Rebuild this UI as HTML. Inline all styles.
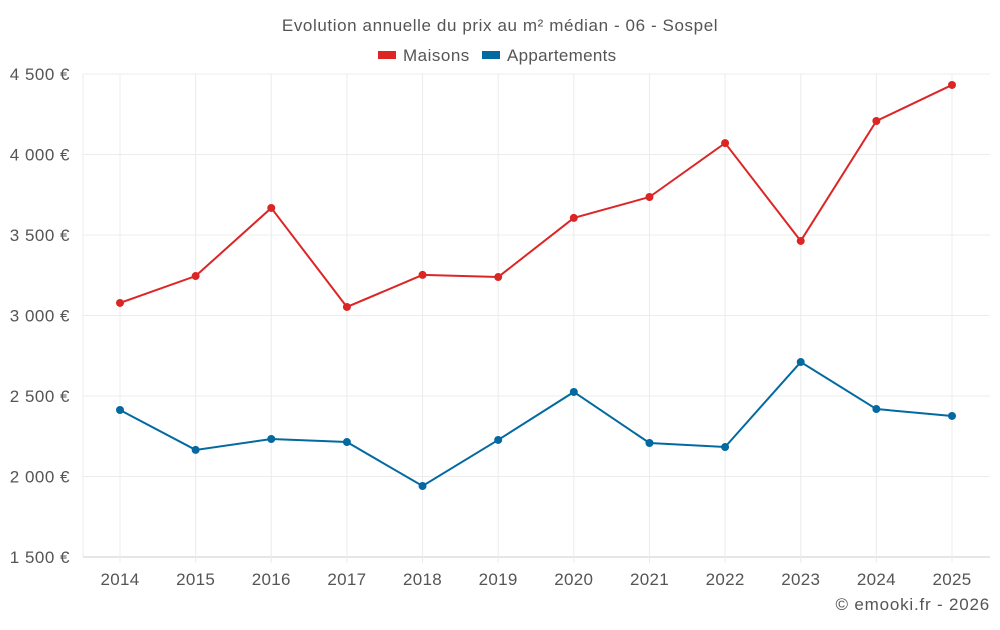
<!DOCTYPE html>
<html><head><meta charset="utf-8"><style>
body{margin:0;background:#fff;font-family:"Liberation Sans",sans-serif;}
svg text{font-family:"Liberation Sans",sans-serif;}
</style></head><body>
<svg id="chart" width="1000" height="625" xmlns="http://www.w3.org/2000/svg">
<text x="500" y="31" text-anchor="middle" font-size="17" letter-spacing="0.6" fill="#555">Evolution annuelle du prix au m² médian - 06 - Sospel</text>
<g>
<g><rect x="378" y="51" width="18" height="8" fill="#dc2626"/><text x="403" y="61" font-size="17" letter-spacing="0.5" fill="#555">Maisons</text></g>
<g><rect x="482" y="51" width="18" height="8" fill="#0369a1"/><text x="507" y="61" font-size="17" letter-spacing="0.3" fill="#555">Appartements</text></g>
</g>
<g id="grid"></g><g id="axes"></g><g id="series"></g>
<text x="990" y="610" text-anchor="end" font-size="17" letter-spacing="0.8" fill="#555">© emooki.fr - 2026</text>
</svg>
<script>
const years=[2014,2015,2016,2017,2018,2019,2020,2021,2022,2023,2024,2025];
const maisons=[3078,3245,3668,3053,3252,3239,3606,3736,4071,3463,4208,4432];
const appartements=[2413,2165,2233,2214,1941,2227,2525,2208,2183,2711,2419,2376];
const yTicks=[1500,2000,2500,3000,3500,4000,4500];
const yTickLabels=["1 500 €","2 000 €","2 500 €","3 000 €","3 500 €","4 000 €","4 500 €"];
const NS="http://www.w3.org/2000/svg";
const L=83,R=990,T=74,B=557;
function x(i){return 120+i*(952-120)/(years.length-1);}
function y(v){return B-(v-1500)/3000*(B-T);}
function mk(t,a,p){const e=document.createElementNS(NS,t);for(const k in a)e.setAttribute(k,a[k]);p.appendChild(e);return e;}
const g=document.getElementById('grid'),ax=document.getElementById('axes'),s=document.getElementById('series');
yTicks.forEach((v,i)=>{
 const l=mk('line',{x1:L,x2:R,y1:y(v),y2:y(v),stroke:i==0?'#ccc':'#ececec','stroke-width':1},g);
 
 
 const t=mk('text',{x:70,y:y(v)+6,'text-anchor':'end','font-size':17,'letter-spacing':0.5,fill:'#555'},ax);t.textContent=yTickLabels[i];
 
 
});
years.forEach((yr,i)=>{
 const l=mk('line',{x1:x(i),x2:x(i),y1:T,y2:B+6,stroke:'#ececec','stroke-width':1},g);
 
 
 const t=mk('text',{x:x(i),y:585,'text-anchor':'middle','font-size':17,'letter-spacing':0.3,fill:'#555'},ax);t.textContent=yr;
 
 
});
const yl=mk('line',{x1:L,x2:L,y1:T,y2:B,stroke:'#ececec'},ax);


function series(vals,col,name){
 const p=mk('polyline',{points:vals.map((v,i)=>x(i)+','+y(v)).join(' '),fill:'none',stroke:col,'stroke-width':2},s);
 
 
 vals.forEach((v,i)=>{const c=mk('circle',{cx:x(i),cy:y(v),r:4,fill:col},s);
 
 });
}
series(maisons,'#dc2626','maisons');
series(appartements,'#0369a1','appartements');
</script>
</body></html>
